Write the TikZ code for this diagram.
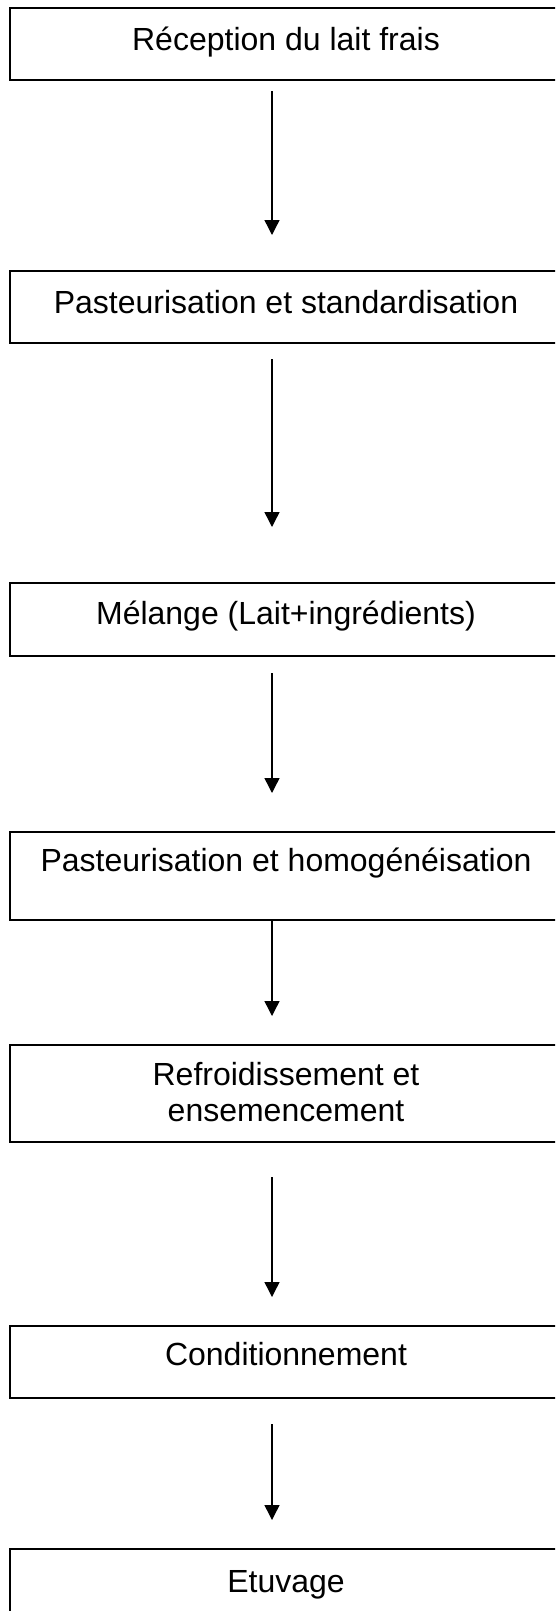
\documentclass[tikz,border=0pt]{standalone}
\usepackage{fontspec}
\setmainfont{Liberation Sans}
\usetikzlibrary{arrows.meta}

\begin{document}
\begin{tikzpicture}[x=1pt, y=-1pt, line width=1.4pt,
		etape/.style={draw, line width=1.7pt, anchor=north west, minimum width=600pt, inner sep=0pt},
		txt/.style={anchor=base, inner sep=0pt, font=\fontsize{32}{36}\selectfont, align=center},
		fl/.style={-{Triangle[length=15pt,width=15pt]}}]
		\useasboundingbox (0,0) rectangle (555,1611);
		\clip (0,0) rectangle (555,1611);
		
		\node[etape, minimum height=72pt] (b1) at (9,7)    {};
		\node[etape, minimum height=72pt] (b2) at (9,270)  {};
		\node[etape, minimum height=73pt] (b3) at (9,582)  {};
		\node[etape, minimum height=88pt] (b4) at (9,831)  {};
		\node[etape, minimum height=97pt] (b5) at (9,1044) {};
		\node[etape, minimum height=72pt] (b6) at (9,1325) {};
		\node[etape, minimum height=90pt] (b7) at (9,1548) {};
		
		\node[txt] (t1) at (286,51)   {Réception du lait frais};
		\node[txt] (t2) at (286,313)  {Pasteurisation et standardisation};
		\node[txt] (t3) at (286,624)  {Mélange (Lait+ingrédients)};
		\node[txt] (t4) at (286,871)  {Pasteurisation et homogénéisation};
		\node[txt] (t5) at (286,1121) {Refroidissement et\\ensemencement};
		\node[txt] (t6) at (286,1365) {Conditionnement};
		\node[txt] (t7) at (286,1592) {Etuvage};
		
		\coordinate (a1) at (272,91);   \coordinate (z1) at (272,235);
		\coordinate (a2) at (272,359);  \coordinate (z2) at (272,527);
		\coordinate (a3) at (272,673);  \coordinate (z3) at (272,793);
		\coordinate (z4) at (272,1016);
		\coordinate (a5) at (272,1177); \coordinate (z5) at (272,1297);
		\coordinate (a6) at (272,1424); \coordinate (z6) at (272,1520);
		
		\draw[fl] (a1) -- (z1);
		\draw[fl] (a2) -- (z2);
		\draw[fl] (a3) -- (z3);
		\draw[fl] (b4.south -| z4) -- (z4);
		\draw[fl] (a5) -- (z5);
		\draw[fl] (a6) -- (z6);
\end{tikzpicture}
\end{document}
